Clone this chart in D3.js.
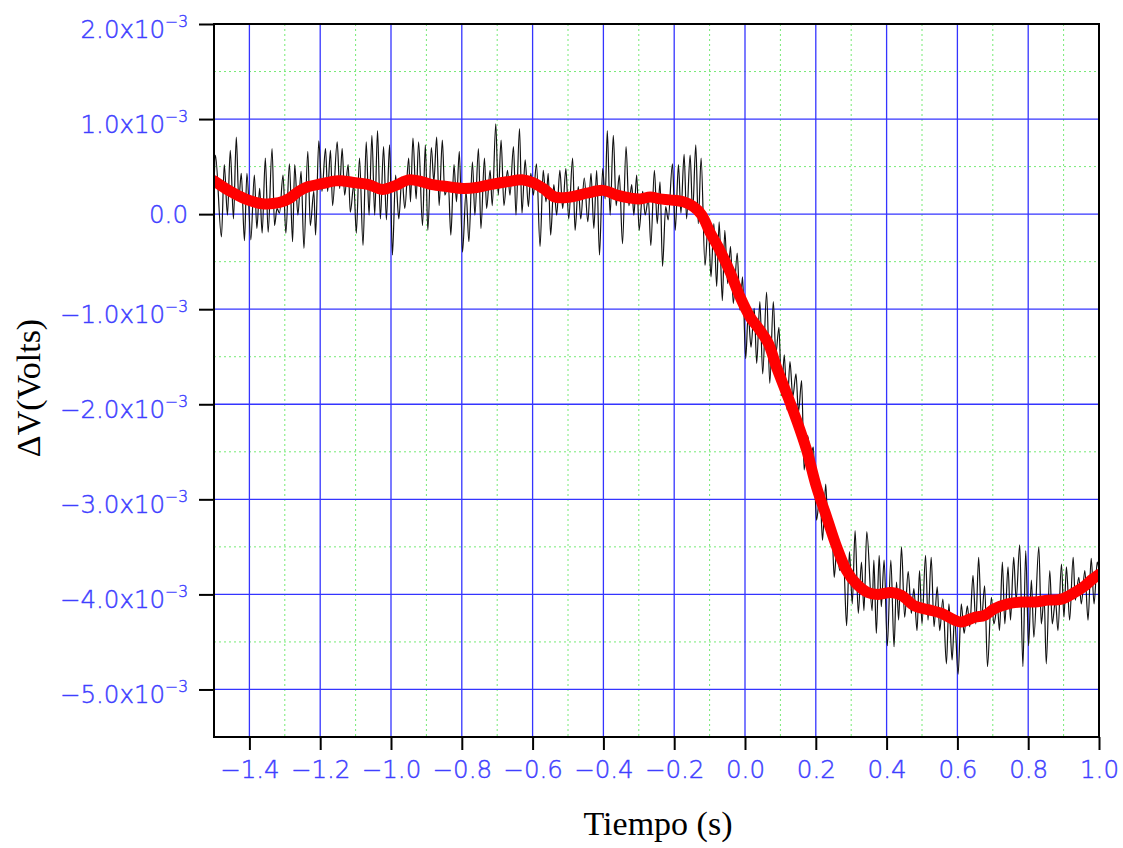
<!DOCTYPE html>
<html>
<head>
<meta charset="utf-8">
<script src="https://cdn.jsdelivr.net/npm/d3@7"></script>
<style>
  body { margin: 0; background: #fff; }
  svg { display: block; }
</style>
</head>
<body>
<svg id="chart" width="1123" height="848"></svg>
<script>
// Raw signal: local maxima/minima of the recorded voltage (time in s, voltage in mV)
const noisyTime = [
  -1.500, -1.496, -1.479, -1.471, -1.462, -1.454, -1.445, -1.437, -1.430, -1.423,
  -1.414, -1.407, -1.396, -1.386, -1.379, -1.371, -1.364, -1.355, -1.347, -1.336,
  -1.329, -1.322, -1.315, -1.305, -1.297, -1.287, -1.278, -1.272, -1.263, -1.254,
  -1.246, -1.235, -1.228, -1.218, -1.213, -1.204, -1.195, -1.185, -1.179, -1.171,
  -1.165, -1.152, -1.145, -1.138, -1.131, -1.121, -1.115, -1.105, -1.098, -1.089,
  -1.079, -1.070, -1.062, -1.054, -1.046, -1.038, -1.030, -1.021, -1.013, -1.004,
  -0.996, -0.987, -0.978, -0.969, -0.961, -0.950, -0.945, -0.938, -0.929, -0.922,
  -0.911, -0.903, -0.896, -0.886,
  -0.879, -0.871, -0.864, -0.855, -0.848, -0.838, -0.831, -0.822, -0.815, -0.807,
  -0.798, -0.788, -0.780, -0.770, -0.763, -0.753, -0.746, -0.736, -0.730, -0.720,
  -0.714, -0.704, -0.697, -0.689, -0.681, -0.671, -0.664, -0.654, -0.647, -0.637,
  -0.630, -0.621, -0.612, -0.605, -0.598, -0.589, -0.579, -0.570, -0.562, -0.556,
  -0.549, -0.540, -0.532, -0.523, -0.515, -0.506, -0.498, -0.487, -0.480, -0.471,
  -0.464, -0.454, -0.444, -0.435, -0.427, -0.419, -0.411, -0.402, -0.395, -0.389,
  -0.381, -0.372, -0.364, -0.355, -0.346, -0.336, -0.328, -0.320, -0.314, -0.306,
  -0.299, -0.289, -0.282, -0.273, -0.266,
  -0.256, -0.248, -0.240, -0.233, -0.224, -0.217, -0.205, -0.197, -0.188, -0.181,
  -0.172, -0.165, -0.155, -0.148, -0.139, -0.132, -0.124, -0.113, -0.104, -0.096,
  -0.088, -0.080, -0.073, -0.064, -0.057, -0.049, -0.041, -0.033, -0.022, -0.014,
  -0.007, 0.002, 0.009, 0.017, 0.026, 0.033, 0.042, 0.050, 0.061, 0.070,
  0.080, 0.087, 0.096, 0.103, 0.111, 0.119, 0.127, 0.135, 0.144, 0.151,
  0.160, 0.167, 0.177, 0.185, 0.193, 0.202, 0.212, 0.219, 0.228, 0.235,
  0.245, 0.252, 0.259, 0.268, 0.278, 0.287, 0.295, 0.303, 0.311, 0.320,
  0.329, 0.336, 0.344,
  0.359, 0.364, 0.371, 0.379, 0.385, 0.393, 0.402, 0.412, 0.421, 0.428,
  0.434, 0.442, 0.451, 0.461, 0.470, 0.477, 0.486, 0.493, 0.500, 0.510,
  0.517, 0.526, 0.534, 0.543, 0.550, 0.559, 0.569, 0.576, 0.585, 0.592,
  0.602, 0.611, 0.619, 0.628, 0.635, 0.644, 0.652, 0.660, 0.668, 0.677,
  0.685, 0.696, 0.703, 0.713, 0.719, 0.727, 0.734, 0.743, 0.750, 0.759,
  0.766, 0.776, 0.785, 0.793, 0.801, 0.809, 0.816, 0.830, 0.837, 0.845,
  0.851, 0.861, 0.868, 0.877, 0.884, 0.894, 0.901, 0.908, 0.917, 0.927,
  0.933, 0.943, 0.950, 0.960, 0.969, 0.978, 0.986, 0.995, 1.000
];
const noisyMilliVolts = [
  0.30, 0.62, -0.24, 0.52, -0.01, 0.67, -0.05, 0.81, 0.15, 0.43,
  -0.28, 0.43, -0.27, 0.41, -0.15, 0.27, -0.20, 0.59, -0.19, 0.69,
  -0.12, 0.06, 0.01, 0.41, -0.20, 0.53, -0.29, 0.52, -0.01, 0.45,
  -0.36, 0.66, -0.12, 0.24, -0.22, 0.77, 0.24, 0.69, 0.24, 0.67,
  0.09, 0.76, 0.27, 0.69, 0.20, 0.52, 0.02, 0.31, -0.20, 0.59,
  -0.33, 0.76, -0.01, 0.83, -0.01, 0.88, -0.05, 0.71, -0.06, 0.73,
  -0.43, 0.41, -0.05, 0.39, 0.06, 0.59, 0.13, 0.80, 0.16, 0.76,
  -0.12, 0.73, -0.17, 0.70,
  0.34, 0.81, 0.09, 0.78, 0.20, 0.31, -0.22, 0.52, 0.13, 0.66,
  -0.40, 0.24, -0.29, 0.55, -0.01, 0.69, -0.15, 0.59, 0.06, 0.46,
  0.09, 0.95, 0.20, 0.78, 0.09, 0.46, 0.20, 0.71, -0.01, 0.90,
  0.01, 0.57, 0.08, 0.43, 0.20, 0.53, -0.34, 0.46, 0.13, 0.43,
  -0.22, 0.31, -0.01, 0.46, 0.06, 0.48, -0.05, 0.59, -0.17, 0.29,
  -0.05, 0.38, -0.08, 0.43, -0.15, 0.46, -0.43, 0.48, 0.16, 0.88,
  -0.01, 0.83, 0.09, 0.41, -0.31, 0.71, 0.09, 0.31, -0.01, 0.41,
  -0.17, 0.24, -0.01, 0.16, -0.33,
  0.46, -0.10, 0.34, -0.55, 0.08, -0.06, 0.53, -0.17, 0.52, 0.01,
  0.63, -0.05, 0.62, 0.02, 0.73, -0.10, 0.59, -0.54, -0.10, -0.66,
  -0.10, -0.76, -0.08, -0.91, -0.17, -0.73, -0.34, -0.94, -0.41, -1.01,
  -0.66, -1.52, -1.05, -1.40, -0.99, -1.57, -0.92, -1.68, -0.82, -1.78,
  -0.92, -1.47, -1.19, -1.91, -1.48, -2.06, -1.55, -1.92, -1.68, -2.08,
  -1.75, -2.69, -2.33, -2.55, -2.45, -3.22, -2.94, -3.43, -2.84, -3.36,
  -3.26, -3.82, -3.54, -3.75, -3.61, -4.33, -3.55, -4.10, -3.33, -4.20,
  -3.66, -4.17, -3.34,
  -4.17, -3.64, -4.41, -3.59, -4.13, -3.64, -4.54, -3.64, -4.55, -3.87,
  -4.27, -3.50, -4.24, -3.76, -4.20, -3.94, -4.38, -3.75, -4.31, -3.59,
  -4.27, -3.61, -4.34, -3.92, -4.38, -4.05, -4.73, -4.10, -4.69, -4.24,
  -4.84, -4.10, -4.41, -4.12, -4.34, -3.80, -4.31, -3.61, -4.27, -3.91,
  -4.76, -4.03, -4.31, -4.13, -4.38, -3.66, -4.31, -3.71, -4.27, -3.61,
  -4.06, -3.48, -4.76, -3.54, -4.54, -3.85, -4.45, -3.50, -4.31, -4.03,
  -4.73, -3.75, -4.31, -4.06, -4.38, -3.68, -4.24, -3.71, -4.27, -3.61,
  -4.06, -3.82, -4.10, -3.75, -4.27, -3.62, -4.10, -3.66, -3.75
];

// Smoothed (filtered) signal, same units
const smoothTime = [
  -1.500, -1.459, -1.412, -1.364, -1.317, -1.289, -1.261, -1.233, -1.195, -1.157,
  -1.139, -1.101, -1.063, -1.025, -0.988, -0.950, -0.912, -0.884, -0.843, -0.796,
  -0.758, -0.720, -0.673, -0.626, -0.598, -0.570, -0.537, -0.494, -0.447, -0.400,
  -0.362, -0.325, -0.296, -0.268, -0.240, -0.212, -0.174, -0.146, -0.122, -0.099,
  -0.071, -0.042, -0.014, 0.014, 0.042, 0.066, 0.089, 0.118, 0.146, 0.174,
  0.202, 0.231, 0.259, 0.287, 0.315, 0.347, 0.376, 0.413, 0.442, 0.479,
  0.517, 0.555, 0.592, 0.611, 0.649, 0.677, 0.705, 0.743, 0.781, 0.818,
  0.856, 0.894, 0.931, 0.960, 0.978, 1.000
];
const smoothMilliVolts = [
  0.35, 0.25, 0.16, 0.11, 0.12, 0.16, 0.24, 0.29, 0.32, 0.35,
  0.35, 0.33, 0.31, 0.26, 0.30, 0.36, 0.34, 0.31, 0.29, 0.27,
  0.28, 0.31, 0.34, 0.36, 0.33, 0.27, 0.18, 0.18, 0.22, 0.25,
  0.20, 0.17, 0.16, 0.18, 0.16, 0.15, 0.13, 0.08, -0.01, -0.19,
  -0.38, -0.61, -0.87, -1.08, -1.22, -1.36, -1.61, -1.89, -2.17, -2.48,
  -2.87, -3.19, -3.50, -3.75, -3.89, -3.98, -4.00, -3.98, -4.01, -4.12,
  -4.16, -4.20, -4.27, -4.29, -4.24, -4.22, -4.15, -4.10, -4.08, -4.08,
  -4.06, -4.05, -3.98, -3.91, -3.85, -3.79
];

// Axis ticks
const xMajorTicks = [-1.4, -1.2, -1.0, -0.8, -0.6, -0.4, -0.2, 0.0, 0.2, 0.4, 0.6, 0.8, 1.0];
const xMinorTicks = [-1.5, -1.3, -1.1, -0.9, -0.7, -0.5, -0.3, -0.1, 0.1, 0.3, 0.5, 0.7, 0.9];
const yMajorTicks = [2.0e-3, 1.0e-3, 0, -1.0e-3, -2.0e-3, -3.0e-3, -4.0e-3, -5.0e-3];
const yMinorTicks = [1.5e-3, 0.5e-3, -0.5e-3, -1.5e-3, -2.5e-3, -3.5e-3, -4.5e-3, -5.5e-3];
const yExponent = -3;

const xTitle = "Tiempo (s)";
const yTitle = "\u0394V(Volts)";

// Layout
const plot = { left: 214, right: 1099, top: 24, bottom: 737 };
const tickFont = "'DejaVu Sans', 'Liberation Sans', sans-serif";
const tickColor = "#3f3fff";

const svg = d3.select("#chart");
svg.append("rect").attr("width", 1123).attr("height", 848).attr("fill", "#fff");

const x = d3.scaleLinear().domain([-1.5, 1.0]).range([plot.left, plot.right]);
const y = d3.scaleLinear().domain([-5.5e-3, 2.0e-3]).range([plot.bottom, plot.top]);

// Minor grid (dotted green)
const grid = svg.append("g");
grid.selectAll(".gx-minor").data(xMinorTicks.filter(d => d > -1.5)).join("line")
  .attr("x1", d => x(d)).attr("x2", d => x(d))
  .attr("y1", plot.top).attr("y2", plot.bottom)
  .attr("stroke", "#74ea74").attr("stroke-width", 1).attr("stroke-dasharray", "2,3");
grid.selectAll(".gy-minor").data(yMinorTicks.filter(d => d > -5.5e-3)).join("line")
  .attr("x1", plot.left).attr("x2", plot.right)
  .attr("y1", d => y(d)).attr("y2", d => y(d))
  .attr("stroke", "#74ea74").attr("stroke-width", 1).attr("stroke-dasharray", "2,3");

// Major grid (blue)
grid.selectAll(".gx-major").data(xMajorTicks.filter(d => d < 1.0)).join("line")
  .attr("x1", d => x(d)).attr("x2", d => x(d))
  .attr("y1", plot.top).attr("y2", plot.bottom)
  .attr("stroke", "#3434ff").attr("stroke-width", 1.3);
grid.selectAll(".gy-major").data(yMajorTicks.filter(d => d < 2.0e-3)).join("line")
  .attr("x1", plot.left).attr("x2", plot.right)
  .attr("y1", d => y(d)).attr("y2", d => y(d))
  .attr("stroke", "#3434ff").attr("stroke-width", 1.3);

// Data
svg.append("clipPath").attr("id", "plot-clip")
  .append("rect")
  .attr("x", plot.left).attr("y", plot.top)
  .attr("width", plot.right - plot.left).attr("height", plot.bottom - plot.top);

const noisy = noisyTime.map((t, i) => [t, noisyMilliVolts[i] * 1e-3]);
const smooth = smoothTime.map((t, i) => [t, smoothMilliVolts[i] * 1e-3]);

const dataLayer = svg.append("g").attr("clip-path", "url(#plot-clip)");

dataLayer.append("path")
  .datum(noisy)
  .attr("fill", "none")
  .attr("stroke", "#111")
  .attr("stroke-width", 1.2)
  .attr("stroke-linejoin", "round")
  .attr("d", d3.line().x(d => x(d[0])).y(d => y(d[1])).curve(d3.curveMonotoneX));

dataLayer.append("path")
  .datum(smooth)
  .attr("fill", "none")
  .attr("stroke", "#ff0000")
  .attr("stroke-width", 11)
  .attr("stroke-linejoin", "round")
  .attr("stroke-linecap", "round")
  .attr("d", d3.line().x(d => x(d[0])).y(d => y(d[1])).curve(d3.curveCatmullRom.alpha(0.5)));

// Frame
svg.append("rect")
  .attr("x", plot.left).attr("y", plot.top)
  .attr("width", plot.right - plot.left).attr("height", plot.bottom - plot.top)
  .attr("fill", "none").attr("stroke", "#000").attr("stroke-width", 2);

// X axis ticks
const xAxisG = svg.append("g").attr("transform", `translate(0,${plot.bottom})`);
xAxisG.call(d3.axisBottom(x).tickValues(xMinorTicks).tickSize(8).tickFormat(""));
xAxisG.call(d3.axisBottom(x).tickValues(xMajorTicks).tickSize(13).tickFormat(d3.format(".1f")));
xAxisG.selectAll(".domain").remove();
xAxisG.selectAll(".tick line").attr("stroke", "#000").attr("stroke-width", 2);
xAxisG.selectAll(".tick text")
  .attr("y", 41).attr("dy", 0)
  .attr("fill", tickColor)
  .attr("stroke", tickColor)
  .attr("stroke-width", 0.45)
  .style("font-family", tickFont)
  .style("font-size", "24.5px")
  .style("font-weight", 200);

// Y axis ticks
const yAxisG = svg.append("g").attr("transform", `translate(${plot.left},0)`);
yAxisG.call(d3.axisLeft(y).tickValues(yMinorTicks).tickSize(8).tickFormat(""));
yAxisG.call(d3.axisLeft(y).tickValues(yMajorTicks).tickSize(15).tickFormat(""));
yAxisG.selectAll(".domain").remove();
yAxisG.selectAll(".tick line").attr("stroke", "#000").attr("stroke-width", 2);

// Y tick labels in scientific notation: mantissa x 10^exponent
const mantissaFmt = d3.format(".1f");
const yLabels = svg.append("g")
  .attr("fill", tickColor)
  .attr("stroke", tickColor)
  .attr("stroke-width", 0.45)
  .style("font-family", tickFont)
  .style("font-weight", 200);
yMajorTicks.forEach(v => {
  const m = v / Math.pow(10, yExponent);
  if (v === 0) {
    yLabels.append("text")
      .attr("x", 188).attr("y", y(v) + 9)
      .attr("text-anchor", "end")
      .style("font-size", "24.5px")
      .text(mantissaFmt(m));
  } else {
    const t = yLabels.append("text")
      .attr("x", 188).attr("y", y(v) + 14)
      .attr("text-anchor", "end")
      .style("font-size", "24.5px");
    t.append("tspan").text(mantissaFmt(m) + "x10");
    t.append("tspan").attr("dy", -11).style("font-size", "15.5px")
      .text(d3.format("d")(yExponent));
  }
});

// Axis titles
svg.append("text")
  .attr("x", 658).attr("y", 835)
  .attr("text-anchor", "middle")
  .style("font-family", "'Liberation Serif', 'Times New Roman', serif")
  .style("font-size", "34px")
  .attr("fill", "#000")
  .text(xTitle);

svg.append("text")
  .attr("transform", "translate(40,388) rotate(-90)")
  .attr("text-anchor", "middle")
  .style("font-family", "'Liberation Serif', 'Times New Roman', serif")
  .style("font-size", "34px")
  .attr("fill", "#000")
  .text(yTitle);
</script>
</body>
</html>
